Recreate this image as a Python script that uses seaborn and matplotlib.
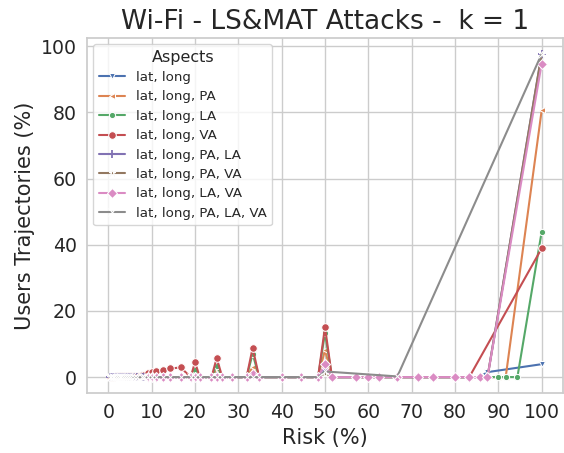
import numpy as np
import pandas as pd
import matplotlib
matplotlib.use("Agg")
import matplotlib.pyplot as plt
import seaborn as sns

N = np.nan

# Risk (%) values at which trajectories were evaluated
risk = [0.3, 0.7, 1.0, 1.4, 1.8, 2.2, 2.6, 3.0, 3.4, 3.8,
        4.2, 4.8, 5.3, 5.9, 6.7, 7.7, 8.3, 9.1, 10.0, 11.1,
        12.5, 14.3, 16.7, 19.0, 20.0, 21.1, 23.8, 25.0, 26.3, 28.6,
        31.9, 33.3, 34.8, 40.0, 44.4, 48.4, 50.0, 51.6, 57.1, 60.0,
        62.5, 66.7, 71.4, 75.0, 80.0, 83.3, 85.7, 87.5, 90.0, 91.7,
        94.4, 100.0]

lat_long = [0, 0, 0, 0, 0, 0, 0, 0, 0, 0,
            0, 0, 0, 0, 0, 0, 0, 0, 0, 0,
            0, 0, 0, 0, 0.5, 0, 0, 0.8, 0, 0,
            0, 1.0, 0, 0, 0, 0, 1.2, 0, 0, 0,
            0, 0, 0, 0, 0, 0, 0, 1.5, N, N,
            N, 3.9]

lat_long_pa = [0, 0, 0, 0, 0, 0, 0, 0, 0, 0,
               0, 0, 0, 0, 0, 0, 0, 0, 0, 0,
               0, 0, 0, 0, 1.5, 0, 0, 2.5, 0, 0,
               0, 3.0, 0, 0, 0, 0, 8.2, 0, 0, 0,
               0, 0, 0, 0, 0, 0, 0, 0, 0, 0,
               N, 80.6]

lat_long_la = [0, 0, 0, 0, 0, 0, 0, 0, 0, 0,
               0, 0, 0, 0, 0, 0, 0, 0, 0, 0,
               0, 0, 0, 0, 2.0, 0, 0, 3.5, 0, 0,
               0, 7.0, 0, 0, 0, 0, 13.4, 0, 0, 0,
               0, 0, 0, 0, 0, 0, 0, 0, 0, 0,
               0, 43.9]

lat_long_va = [0.1, 0.12, 0.14, 0.16, 0.18, 0.2, 0.22, 0.24, 0.26, 0.28,
               0.3, 0.32, 0.35, 0.4, 0.45, 0.5, 0.6, 1.2, 1.5, 1.8,
               2.0, 2.6, 2.9, 0, 4.5, 0, 0, 5.7, 0, 0,
               0, 8.8, 0, 0, 0, 0, 15.1, 0, 0, 0,
               0, 0, 0, 0, 0, 0, N, N, N, N,
               N, 38.9]

lat_long_pa_la = [0, 0, 0, 0, 0, 0, 0, 0, 0, 0,
                  0, 0, 0, 0, 0, 0, 0, 0, 0, 0,
                  0, 0, 0, 0, 0, 0, 0, 0, 0, 0,
                  0, 0.5, 0, 0, 0, 0, 2.0, 0, 0, 0,
                  0, 0, 0, 0, 0, 0, 0, 0, N, N,
                  N, 97.7]

lat_long_pa_va = [0, 0, 0, 0, 0, 0, 0, 0, 0, 0,
                  0, 0, 0, 0, 0, 0, 0, 0, 0, 0,
                  0, 0, 0, 0, 0.5, 0, 0, 0.8, 0, 0,
                  0, 1.2, 0, 0, 0, 0, 1.0, 0, 0, 0,
                  0, 0, 0, 0, 0, 0, 0, 0, N, N,
                  N, 97.7]

lat_long_la_va = [N, N, N, N, N, N, N, N, N, N,
                  N, N, N, N, N, N, N, 0, 0, 0,
                  0, 0, 0, 0, 0, 0, 0, 0, 0, 0,
                  0, 0.8, 0, 0, 0, 0, 4.0, 0, 0, 0,
                  0, 0, 0, 0, 0, 0, 0, 0, N, N,
                  N, 94.7]

lat_long_pa_la_va = [0, 0, 0, 0, 0, 0, 0, 0, 0, 0,
                     0, 0, 0, 0, 0, 0, 0, 0, 0, 0,
                     0, 0, 0, 0, 0, 0, 0, 0, 0, 0,
                     0, 0, 0, 0, 0, 0, 1.7, N, N, N,
                     N, 0.2, N, N, N, N, N, N, N, N,
                     N, 97.7]

labels = ["lat, long", "lat, long, PA", "lat, long, LA", "lat, long, VA",
          "lat, long, PA, LA", "lat, long, PA, VA", "lat, long, LA, VA",
          "lat, long, PA, LA, VA"]
values = [lat_long, lat_long_pa, lat_long_la, lat_long_va,
          lat_long_pa_la, lat_long_pa_va, lat_long_la_va, lat_long_pa_la_va]

markers = ["v", "<", "o", "o", "+", "*", "D", "x"]
msizes = [5, 5, 4.5, 5.5, 6, 5, 5.5, 6]

sns.set_theme(style="whitegrid")
colors = sns.color_palette("deep", 8)

fig = plt.figure(figsize=(5.64, 4.53), dpi=100)
ax = fig.add_axes([0.1537, 0.1318, 0.8451, 0.785])

for lab, yv, col, mk, ms in zip(labels, values, colors, markers, msizes):
    d = pd.DataFrame({"Risk": risk, "Traj": yv}).dropna()
    kw = {}
    if mk == "+":
        kw["markeredgecolor"] = col
        kw["markeredgewidth"] = 1.3
    sns.lineplot(data=d, x="Risk", y="Traj", color=col, marker=mk,
                 markersize=ms, linewidth=1.5, label=lab, ax=ax,
                 errorbar=None, **kw)

ax.set_xlim(-5, 105)
ax.set_ylim(-4.9, 102.6)
ax.set_xticks(range(0, 101, 10))
ax.set_yticks(range(0, 101, 20))
ax.tick_params(axis="both", labelsize=13.6, length=0, pad=7)
ax.set_xlabel("Risk (%)", fontsize=15)
ax.set_ylabel("Users Trajectories (%)", fontsize=15)
ax.set_title("Wi-Fi - LS&MAT Attacks -  k = 1", fontsize=19)
ax.legend(title="Aspects", loc="upper left", fontsize=9.6, title_fontsize=11.5,
          labelspacing=0.48)

fig.savefig("out.png", dpi=100)
